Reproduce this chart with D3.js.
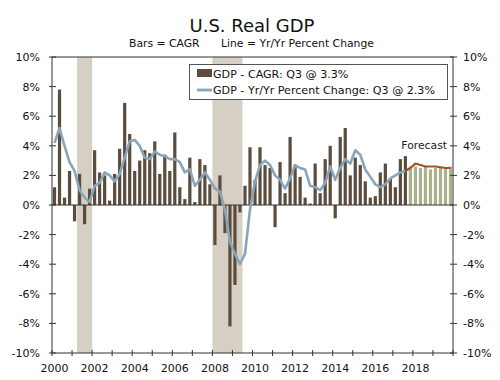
<!DOCTYPE html>
<html>
<head>
<meta charset="utf-8">
<script src="https://cdn.jsdelivr.net/npm/d3@7"></script>
<style>
  html, body { margin: 0; padding: 0; background: #fff; }
  svg { display: block; font-family: "DejaVu Sans", Verdana, sans-serif; }
</style>
</head>
<body>
<svg id="chart" width="500" height="380"></svg>
<script>
// ---- Data ----
// Quarterly, 2000Q1 .. 2017Q3 (actual)
const cagrActual = [
  1.2, 7.8, 0.5, 2.3,
  -1.1, 2.1, -1.3, 1.1,
  3.7, 2.2, 2.0, 0.3,
  2.1, 3.8, 6.9, 4.8,
  2.3, 3.0, 3.7, 3.5,
  4.3, 2.1, 3.4, 2.3,
  4.9, 1.2, 0.4, 3.2,
  0.2, 3.1, 2.7, 1.4,
  -2.7, 2.0, -1.9, -8.2,
  -5.4, -0.5, 1.3, 3.9,
  1.7, 3.9, 2.7, 2.5,
  -1.5, 2.9, 0.8, 4.6,
  2.7, 1.9, 0.5, 0.1,
  2.8, 0.8, 3.1, 4.0,
  -0.9, 4.6, 5.2, 2.0,
  3.2, 2.7, 1.6, 0.5,
  0.6, 2.2, 2.8, 1.8,
  1.2, 3.1, 3.3
];
// Forecast, 2017Q4 .. 2019Q4
const cagrForecast = [2.6, 2.6, 2.5, 2.6, 2.4, 2.5, 2.5, 2.5, 2.6];

const yoyActual = [
  4.2, 5.2, 4.0, 2.9,
  2.3, 1.0, 0.5, 0.2,
  1.3, 1.5, 2.2, 2.0,
  1.6, 2.1, 3.2, 4.3,
  4.4, 4.0, 3.2, 3.1,
  3.6, 3.4, 3.3, 3.1,
  3.1, 2.9, 2.2, 2.4,
  1.3, 1.7, 2.2, 1.7,
  1.1, 0.9, -0.3, -2.5,
  -3.3, -4.0, -3.3, -0.3,
  1.6, 2.7, 3.0, 2.7,
  2.0, 1.7, 1.1, 1.8,
  2.7, 2.5, 2.4, 1.3,
  1.2, 1.0, 1.5, 2.6,
  1.7, 2.5, 3.1, 2.8,
  3.7, 3.4, 2.4, 1.9,
  1.4, 1.2, 1.4, 1.8,
  2.0, 2.2, 2.3
];
// Forecast yr/yr line, starting at 2017Q3 (joins actual)
const yoyForecast = [2.3, 2.5, 2.8, 2.7, 2.6, 2.6, 2.6, 2.55, 2.5, 2.5];

const recessions = [[2001.25, 2002.0], [2008.0, 2009.5]];
const yTicks = [-10, -8, -6, -4, -2, 0, 2, 4, 6, 8, 10];
const yearTicks = d3.range(2000, 2021);
const yearLabels = [2000, 2002, 2004, 2006, 2008, 2010, 2012, 2014, 2016, 2018];

const legendItems = ["GDP - CAGR: Q3 @ 3.3%", "GDP - Yr/Yr Percent Change: Q3 @ 2.3%"];

// ---- Layout ----
const pL = 52, pR = 453, pT = 57, pB = 353;
const nQ = cagrActual.length + cagrForecast.length;

const svg = d3.select("#chart");

const xYear = d3.scaleLinear().domain([2000, 2020]).range([pL, pR]);
const xBand = d3.scaleBand().domain(d3.range(nQ)).range([pL, pR])
  .paddingInner(0.36).paddingOuter(0.18);
const y = d3.scaleLinear().domain([-10, 10]).range([pB, pT]);
const cx = i => xBand(i) + xBand.bandwidth() / 2;

const colBar = "#5b4c3e", colFc = "#a9b28f", colBlue = "#8aa5ba", colBrown = "#a3541d",
      colShade = "#d6cfc4", colAxis = "#333";

// Title
svg.append("text").attr("x", 252).attr("y", 31.5).attr("text-anchor", "middle")
  .attr("font-size", 18).attr("fill", "#111").text("U.S. Real GDP");
svg.append("text").attr("x", 129).attr("y", 47).attr("font-size", 10.8).attr("fill", "#111")
  .text("Bars = CAGR");
svg.append("text").attr("x", 221).attr("y", 47).attr("font-size", 10.8).attr("fill", "#111")
  .text("Line = Yr/Yr Percent Change");

// Recession shading
svg.append("g").selectAll("rect").data(recessions).join("rect")
  .attr("x", d => xYear(d[0])).attr("width", d => xYear(d[1]) - xYear(d[0]))
  .attr("y", pT).attr("height", pB - pT).attr("fill", colShade);

// Bars
const barData = cagrActual.map((v, i) => ({i, v, fc: false}))
  .concat(cagrForecast.map((v, k) => ({i: cagrActual.length + k, v, fc: true})));
svg.append("g").selectAll("rect").data(barData).join("rect")
  .attr("x", d => xBand(d.i)).attr("width", xBand.bandwidth())
  .attr("y", d => y(Math.max(0, d.v))).attr("height", d => Math.abs(y(d.v) - y(0)))
  .attr("fill", d => d.fc ? colFc : colBar);

// Zero line
svg.append("line").attr("x1", pL).attr("x2", pR).attr("y1", y(0)).attr("y2", y(0))
  .attr("stroke", colAxis).attr("stroke-width", 1);

// Lines
const line = d3.line().x(d => cx(d.i)).y(d => y(d.v)).curve(d3.curveLinear);
svg.append("path").datum(yoyActual.map((v, i) => ({i, v})))
  .attr("d", line).attr("fill", "none").attr("stroke", colBlue).attr("stroke-width", 2.6)
  .attr("stroke-linejoin", "round");
svg.append("path").datum(yoyForecast.map((v, k) => ({i: yoyActual.length - 1 + k, v})))
  .attr("d", line).attr("fill", "none").attr("stroke", colBrown).attr("stroke-width", 2.2)
  .attr("stroke-linejoin", "round");

// Frame
svg.append("rect").attr("x", pL).attr("y", pT).attr("width", pR - pL)
  .attr("height", pB - pT).attr("fill", "none").attr("stroke", colAxis).attr("stroke-width", 1);

// Axes ticks & labels
const gA = svg.append("g");
gA.selectAll(".lt").data(yTicks).join("line").attr("class", "lt")
  .attr("x1", pL - 3).attr("x2", pL + 4).attr("y1", d => y(d)).attr("y2", d => y(d))
  .attr("stroke", colAxis);
gA.selectAll(".rt").data(yTicks).join("line").attr("class", "rt")
  .attr("x1", pR - 3).attr("x2", pR + 4).attr("y1", d => y(d)).attr("y2", d => y(d))
  .attr("stroke", colAxis);
gA.selectAll(".ll").data(yTicks).join("text").attr("class", "ll")
  .attr("x", 40).attr("y", d => y(d)).attr("dy", "0.36em").attr("text-anchor", "end")
  .attr("font-size", 11).attr("fill", "#111").text(d => d + "%");
gA.selectAll(".rl").data(yTicks).join("text").attr("class", "rl")
  .attr("x", 463).attr("y", d => y(d)).attr("dy", "0.36em").attr("text-anchor", "start")
  .attr("font-size", 11).attr("fill", "#111").text(d => d + "%");
gA.selectAll(".bt").data(yearTicks).join("line").attr("class", "bt")
  .attr("x1", d => xYear(d)).attr("x2", d => xYear(d)).attr("y1", pB - 3).attr("y2", pB + 3)
  .attr("stroke", colAxis);
gA.selectAll(".bl").data(yearLabels).join("text").attr("class", "bl")
  .attr("x", d => xYear(d) + 2.5).attr("y", 372).attr("text-anchor", "middle")
  .attr("font-size", 11).attr("fill", "#111").text(d => d);

// Forecast label
svg.append("text").attr("x", 447).attr("y", 149).attr("text-anchor", "end")
  .attr("font-size", 10.8).attr("fill", "#222").text("Forecast");

// Legend
const lg = svg.append("g");
lg.append("rect").attr("x", 189.5).attr("y", 64.5).attr("width", 258).attr("height", 35)
  .attr("fill", "#fff").attr("stroke", "#555").attr("stroke-width", 1);
lg.append("rect").attr("x", 197).attr("y", 69).attr("width", 15).attr("height", 8).attr("fill", colBar);
lg.append("line").attr("x1", 197).attr("x2", 212).attr("y1", 90).attr("y2", 90)
  .attr("stroke", colBlue).attr("stroke-width", 2.8);
lg.selectAll("text").data(legendItems).join("text")
  .attr("x", 213).attr("y", (d, i) => i === 0 ? 77.5 : 94)
  .attr("font-size", 11.1).attr("fill", "#111").text(d => d);
</script>
</body>
</html>
